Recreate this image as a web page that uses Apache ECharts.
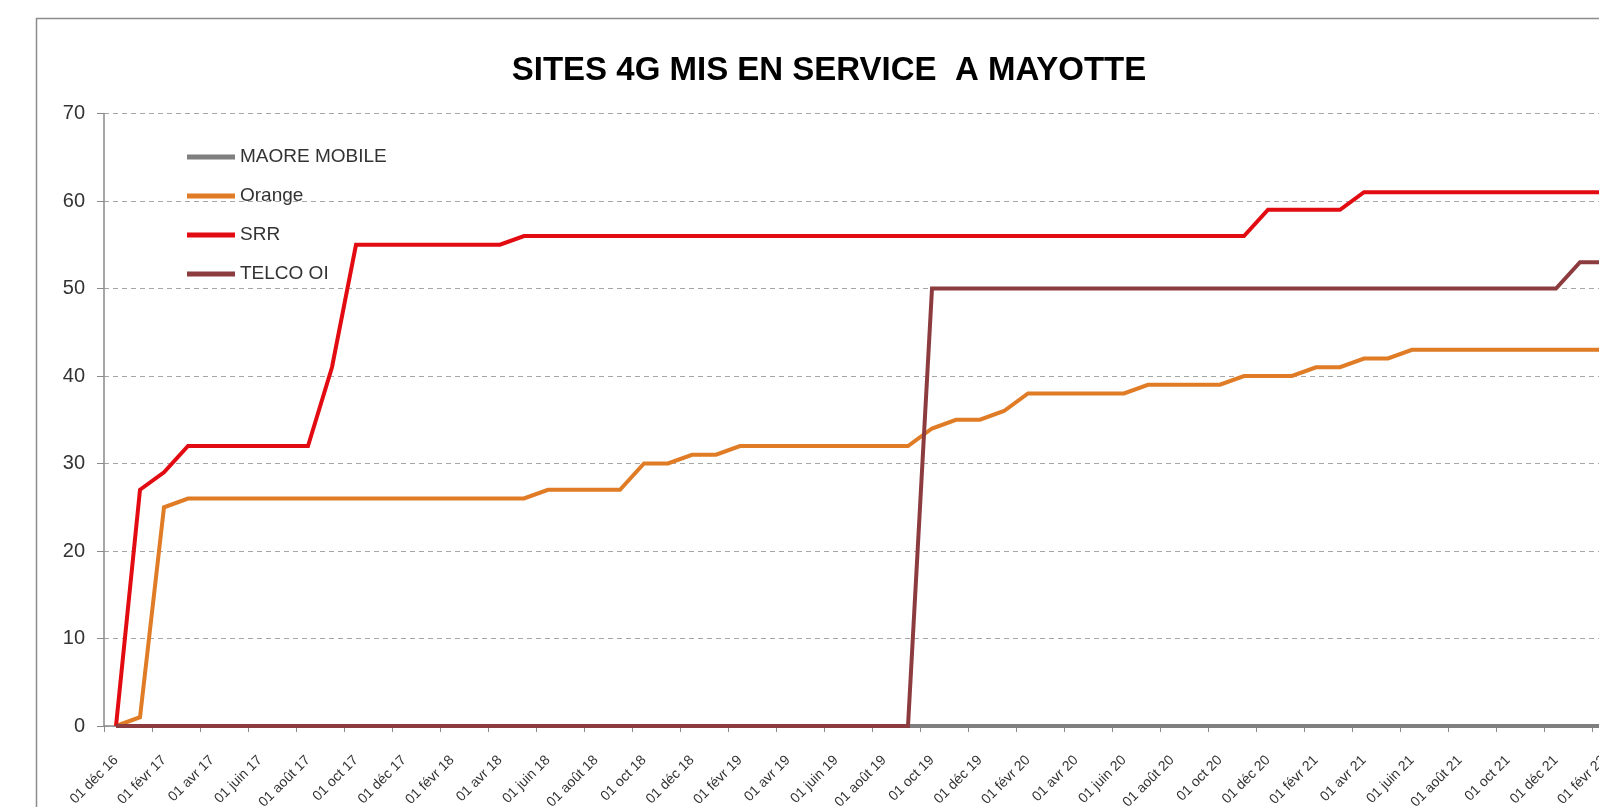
<!DOCTYPE html>
<html>
<head>
<meta charset="utf-8">
<title>Sites 4G Mayotte</title>
<script src="https://cdn.jsdelivr.net/npm/echarts@6/dist/echarts.min.js"></script>
<style>
  html, body { margin: 0; padding: 0; background: #fff; }
  #chart { width: 1599px; height: 807px; }
</style>
</head>
<body>
<div id="chart"></div>
<script>
// mois (axe catégories, un point par mois)
const months = [
  '01 déc 16', '01 janv 17', '01 févr 17', '01 mars 17', '01 avr 17', '01 mai 17',
  '01 juin 17', '01 juil 17', '01 août 17', '01 sept 17', '01 oct 17', '01 nov 17',
  '01 déc 17', '01 janv 18', '01 févr 18', '01 mars 18', '01 avr 18', '01 mai 18',
  '01 juin 18', '01 juil 18', '01 août 18', '01 sept 18', '01 oct 18', '01 nov 18',
  '01 déc 18', '01 janv 19', '01 févr 19', '01 mars 19', '01 avr 19', '01 mai 19',
  '01 juin 19', '01 juil 19', '01 août 19', '01 sept 19', '01 oct 19', '01 nov 19',
  '01 déc 19', '01 janv 20', '01 févr 20', '01 mars 20', '01 avr 20', '01 mai 20',
  '01 juin 20', '01 juil 20', '01 août 20', '01 sept 20', '01 oct 20', '01 nov 20',
  '01 déc 20', '01 janv 21', '01 févr 21', '01 mars 21', '01 avr 21', '01 mai 21',
  '01 juin 21', '01 juil 21', '01 août 21', '01 sept 21', '01 oct 21', '01 nov 21',
  '01 déc 21', '01 janv 22', '01 févr 22'
]

const maoreMobile = [
  0, 0, 0, 0, 0, 0, 0, 0, 0, 0, 0, 0,
  0, 0, 0, 0, 0, 0, 0, 0, 0, 0, 0, 0,
  0, 0, 0, 0, 0, 0, 0, 0, 0, 0, 0, 0,
  0, 0, 0, 0, 0, 0, 0, 0, 0, 0, 0, 0,
  0, 0, 0, 0, 0, 0, 0, 0, 0, 0, 0, 0,
  0, 0, 0
]

const orange = [
  0, 1, 25, 26, 26, 26, 26, 26, 26, 26, 26, 26,
  26, 26, 26, 26, 26, 26, 27, 27, 27, 27, 30, 30,
  31, 31, 32, 32, 32, 32, 32, 32, 32, 32, 34, 35,
  35, 36, 38, 38, 38, 38, 38, 39, 39, 39, 39, 40,
  40, 40, 41, 41, 42, 42, 43, 43, 43, 43, 43, 43,
  43, 43, 43
]

const srr = [
  0, 27, 29, 32, 32, 32, 32, 32, 32, 41, 55, 55,
  55, 55, 55, 55, 55, 56, 56, 56, 56, 56, 56, 56,
  56, 56, 56, 56, 56, 56, 56, 56, 56, 56, 56, 56,
  56, 56, 56, 56, 56, 56, 56, 56, 56, 56, 56, 56,
  59, 59, 59, 59, 61, 61, 61, 61, 61, 61, 61, 61,
  61, 61, 61
]

const telcoOi = [
  0, 0, 0, 0, 0, 0, 0, 0, 0, 0, 0, 0,
  0, 0, 0, 0, 0, 0, 0, 0, 0, 0, 0, 0,
  0, 0, 0, 0, 0, 0, 0, 0, 0, 0, 50, 50,
  50, 50, 50, 50, 50, 50, 50, 50, 50, 50, 50, 50,
  50, 50, 50, 50, 50, 50, 50, 50, 50, 50, 50, 50,
  50, 53, 53
]

const yTicks = [0, 10, 20, 30, 40, 50, 60, 70]

const font = "'Liberation Sans', Arial, sans-serif"
const textColor = '#333333'
const axisGray = '#8a8a8a'

const chart = echarts.init(document.getElementById('chart'), null, { renderer: 'canvas' })

function lineSerie (name, data, color) {
  return {
    name: name,
    type: 'line',
    data: data,
    showSymbol: false,
    symbol: 'none',
    smooth: false,
    color: color,
    lineStyle: { width: 4, color: color, join: 'miter' },
    emphasis: { disabled: true }
  }
}

const option = {
  animation: false,
  backgroundColor: '#ffffff',
  title: {
    text: 'SITES 4G MIS EN SERVICE  A MAYOTTE',
    left: 824,
    top: 49,
    textAlign: 'center',
    textStyle: {
      fontFamily: font,
      fontWeight: 'bold',
      fontSize: 33,
      color: '#000000'
    }
  },
  legend: {
    orient: 'vertical',
    left: 182,
    top: 142,
    itemWidth: 48,
    itemHeight: 5,
    itemGap: 19,
    icon: 'rect',
    data: ['MAORE MOBILE', 'Orange', 'SRR', 'TELCO OI'],
    textStyle: {
      fontFamily: font,
      fontSize: 19,
      lineHeight: 20,
      color: textColor
    }
  },
  grid: {
    left: 104,
    top: 113.5,
    right: -17,
    bottom: 81,
    containLabel: false,
    outerBoundsMode: 'none'
  },
  xAxis: {
    type: 'category',
    data: months,
    boundaryGap: true,
    axisLine: { lineStyle: { color: axisGray, width: 1.5 } },
    axisTick: { show: true, interval: 1, length: 6, lineStyle: { color: axisGray } },
    axisLabel: {
      interval: 1,
      rotate: 45,
      margin: 32,
      fontFamily: font,
      fontSize: 14,
      color: textColor
    },
    splitLine: { show: false }
  },
  yAxis: {
    type: 'value',
    min: yTicks[0],
    max: yTicks[yTicks.length - 1],
    interval: 10,
    axisLine: { show: true, lineStyle: { color: axisGray, width: 1.5 } },
    axisTick: { show: true, length: 7, lineStyle: { color: axisGray } },
    axisLabel: {
      margin: 19,
      fontFamily: font,
      fontSize: 20,
      color: textColor
    },
    splitLine: {
      show: true,
      lineStyle: { color: '#a6a6a6', width: 1, type: [5, 4] }
    }
  },
  graphic: [
    {
      // cadre gris de la zone de graphique
      type: 'rect',
      silent: true,
      z: -1,
      shape: { x: 36.5, y: 18.5, width: 1700, height: 1000 },
      style: { fill: 'none', stroke: '#8c8c8c', lineWidth: 1.5 }
    }
  ],
  series: [
    lineSerie('MAORE MOBILE', maoreMobile, '#7f7f7f'),
    lineSerie('Orange', orange, '#e07b26'),
    lineSerie('SRR', srr, '#e30b12'),
    lineSerie('TELCO OI', telcoOi, '#8c3b3f')
  ]
}

chart.setOption(option)
window.addEventListener('resize', chart.resize)
</script>
</body>
</html>
